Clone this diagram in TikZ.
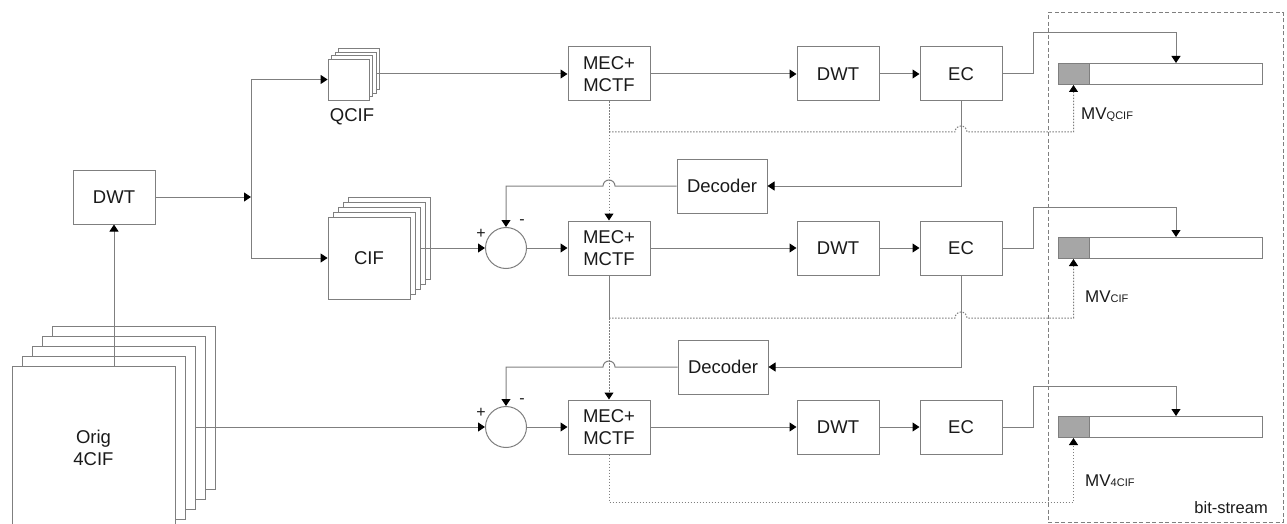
\documentclass[tikz,border=0pt]{standalone}
\usepackage{fontspec}
\setmainfont{Liberation Sans}
\usetikzlibrary{positioning,arrows.meta,calc}
\definecolor{linegray}{HTML}{7F7F7F}
\definecolor{fillgray}{HTML}{A6A6A6}
\definecolor{inkblack}{HTML}{1A1A1A}

\begin{document}
\begin{tikzpicture}[x=1pt, y=-1pt,
    procBox/.style={rectangle, draw=linegray, fill=white, line width=1pt, minimum width=82pt, minimum height=54pt, align=center, inner sep=0pt, text=inkblack, font=\fontsize{18.5}{22}\selectfont},
    frameBox/.style={rectangle, draw=linegray, fill=white, line width=0.9pt, inner sep=0pt},
    subCircle/.style={circle, draw=linegray, fill=white, line width=1pt, minimum size=41pt, inner sep=0pt},
    barBox/.style={rectangle, draw=linegray, fill=white, line width=1pt, minimum width=204pt, minimum height=21pt, inner sep=0pt},
    mvBox/.style={rectangle, draw=linegray, fill=fillgray, line width=1pt, minimum width=31pt, minimum height=21pt, inner sep=0pt, anchor=west},
    textLabel/.style={inner sep=0pt, text=inkblack, align=center, font=\fontsize{18.5}{22}\selectfont},
    mvLabel/.style={anchor=base west, inner sep=0pt, text=inkblack, font=\fontsize{17}{20}\selectfont},
    sgn/.style={inner sep=0pt, text=inkblack, font=\fontsize{16}{16}\selectfont},
    wire/.style={draw=linegray, line width=1pt},
    flow/.style={wire, -{Triangle[length=7pt,width=9pt,color=black]}},
    mvwire/.style={wire, dash pattern=on 1.5pt off 1.5pt},
    mvflow/.style={flow, dash pattern=on 1.5pt off 1.5pt}
]
    \useasboundingbox (0,0) rectangle (1287,524);

    % bit-stream container
    \node[draw=linegray, dash pattern=on 4pt off 2.5pt, line width=1pt, minimum width=235pt, minimum height=509pt, inner sep=0pt] (bitstream) at (1165.5,267.5) {};
    \node[anchor=base east, inner sep=0pt, text=inkblack, font=\fontsize{16.5}{20}\selectfont] (bsLabel) at (1268,513) {bit-stream};

    % frame stacks
    \foreach \i in {4,...,0}
        \node[frameBox, minimum size=163pt] (orig\i) at ({93.5+10*\i},{447.5-10*\i}) {};
    \node[textLabel] (origLabel) at (orig0) {Orig\\4CIF};

    \foreach \i in {3,...,0}
        \node[frameBox, minimum size=41pt] (qcif\i) at ({348.5+3.5*\i},{79.5-3.5*\i}) {};
    \node[textLabel] (qcifLabel) at (352,117) {QCIF};

    \foreach \i in {4,...,0}
        \node[frameBox, minimum size=82pt] (cif\i) at ({369+5*\i},{258-5*\i}) {};
    \node[textLabel] (cifLabel) at (cif0) {CIF};

    % spatial DWT and split
    \node[procBox] (dwt0) at (114,197) {DWT};
    \coordinate (split) at (251,197);
    \draw[flow] (dwt0 |- orig0.north) -- (dwt0);
    \draw[flow] (dwt0) -- (split);
    \draw[flow] (split) |- (qcif0);
    \draw[flow] (split) |- (cif0);

    % coding rows
    \foreach \r/\y in {1/74,2/248,3/427} {
        \node[procBox] (mec\r) at (609,\y) {MEC+\\MCTF};
        \node[procBox] (dwt\r) at (838,\y) {DWT};
        \node[procBox] (ec\r) at (961,\y) {EC};
        \node[barBox] (bar\r) at (1160,\y) {};
        \node[mvBox] (mvbox\r) at (bar\r.west) {};
        \draw[flow] (mec\r) -- (dwt\r);
        \draw[flow] (dwt\r) -- (ec\r);
        \draw[flow] (ec\r.east) -| ($(ec\r.east)+(31,-41)$) -| ([xshift=16pt]bar\r.north);
    }

    % subtraction and decoders
    \node[subCircle] (sub2) at (506,248) {};
    \node[subCircle] (sub3) at (506,427) {};
    \node[procBox, minimum width=90pt] (dec1) at (722,186) {Decoder};
    \node[procBox, minimum width=90pt] (dec2) at (723,367) {Decoder};

    \draw[flow] (qcif2.east |- mec1) -- (mec1);
    \draw[flow] (cif2.east |- sub2) -- (sub2);
    \draw[flow] (sub2) -- (mec2);
    \draw[flow] (orig2.east |- sub3) -- (sub3);
    \draw[flow] (sub3) -- (mec3);

    \foreach \r/\n in {1/2,2/3} {
        \draw[flow] (ec\r) |- (dec\r);
        \draw[flow] (dec\r.west) -- ($(mec\r.south |- dec\r.west)+(6,0)$) arc[start angle=0, end angle=180, radius=6pt] -- (sub\n |- dec\r.west) -- (sub\n);
        \node[sgn] (plus\n) at ([shift={(-25,-14)}]sub\n.center) {+};
        \node[sgn] (minus\n) at ([shift={(16,-26)}]sub\n.center) {-};
    }

    % motion vectors
    \coordinate (tap1) at (609,132);
    \coordinate (tap2) at (609,318);
    \coordinate (tap3) at (609,502);
    \draw[mvflow] (mec1) -- (mec2);
    \draw[wire] (mec2) -- (tap2);
    \draw[mvflow] (tap2) -- (mec3);
    \foreach \r in {1,2} {
        \draw[mvflow] (tap\r) -- ($(ec\r |- tap\r)+(-6,0)$) arc[start angle=180, end angle=0, radius=6pt] -- (mvbox\r |- tap\r) -- (mvbox\r);
    }
    \draw[mvflow] (mec3) -- (tap3) -- (mvbox3 |- tap3) -- (mvbox3);

    \node[mvLabel] (mvQcif) at (1081,120) {MV{\fontsize{11}{11}\selectfont QCIF}};
    \node[mvLabel] (mvCif) at (1085,302) {MV{\fontsize{11}{11}\selectfont CIF}};
    \node[mvLabel] (mvFour) at (1085,486) {MV{\fontsize{11}{11}\selectfont 4CIF}};
\end{tikzpicture}
\end{document}
